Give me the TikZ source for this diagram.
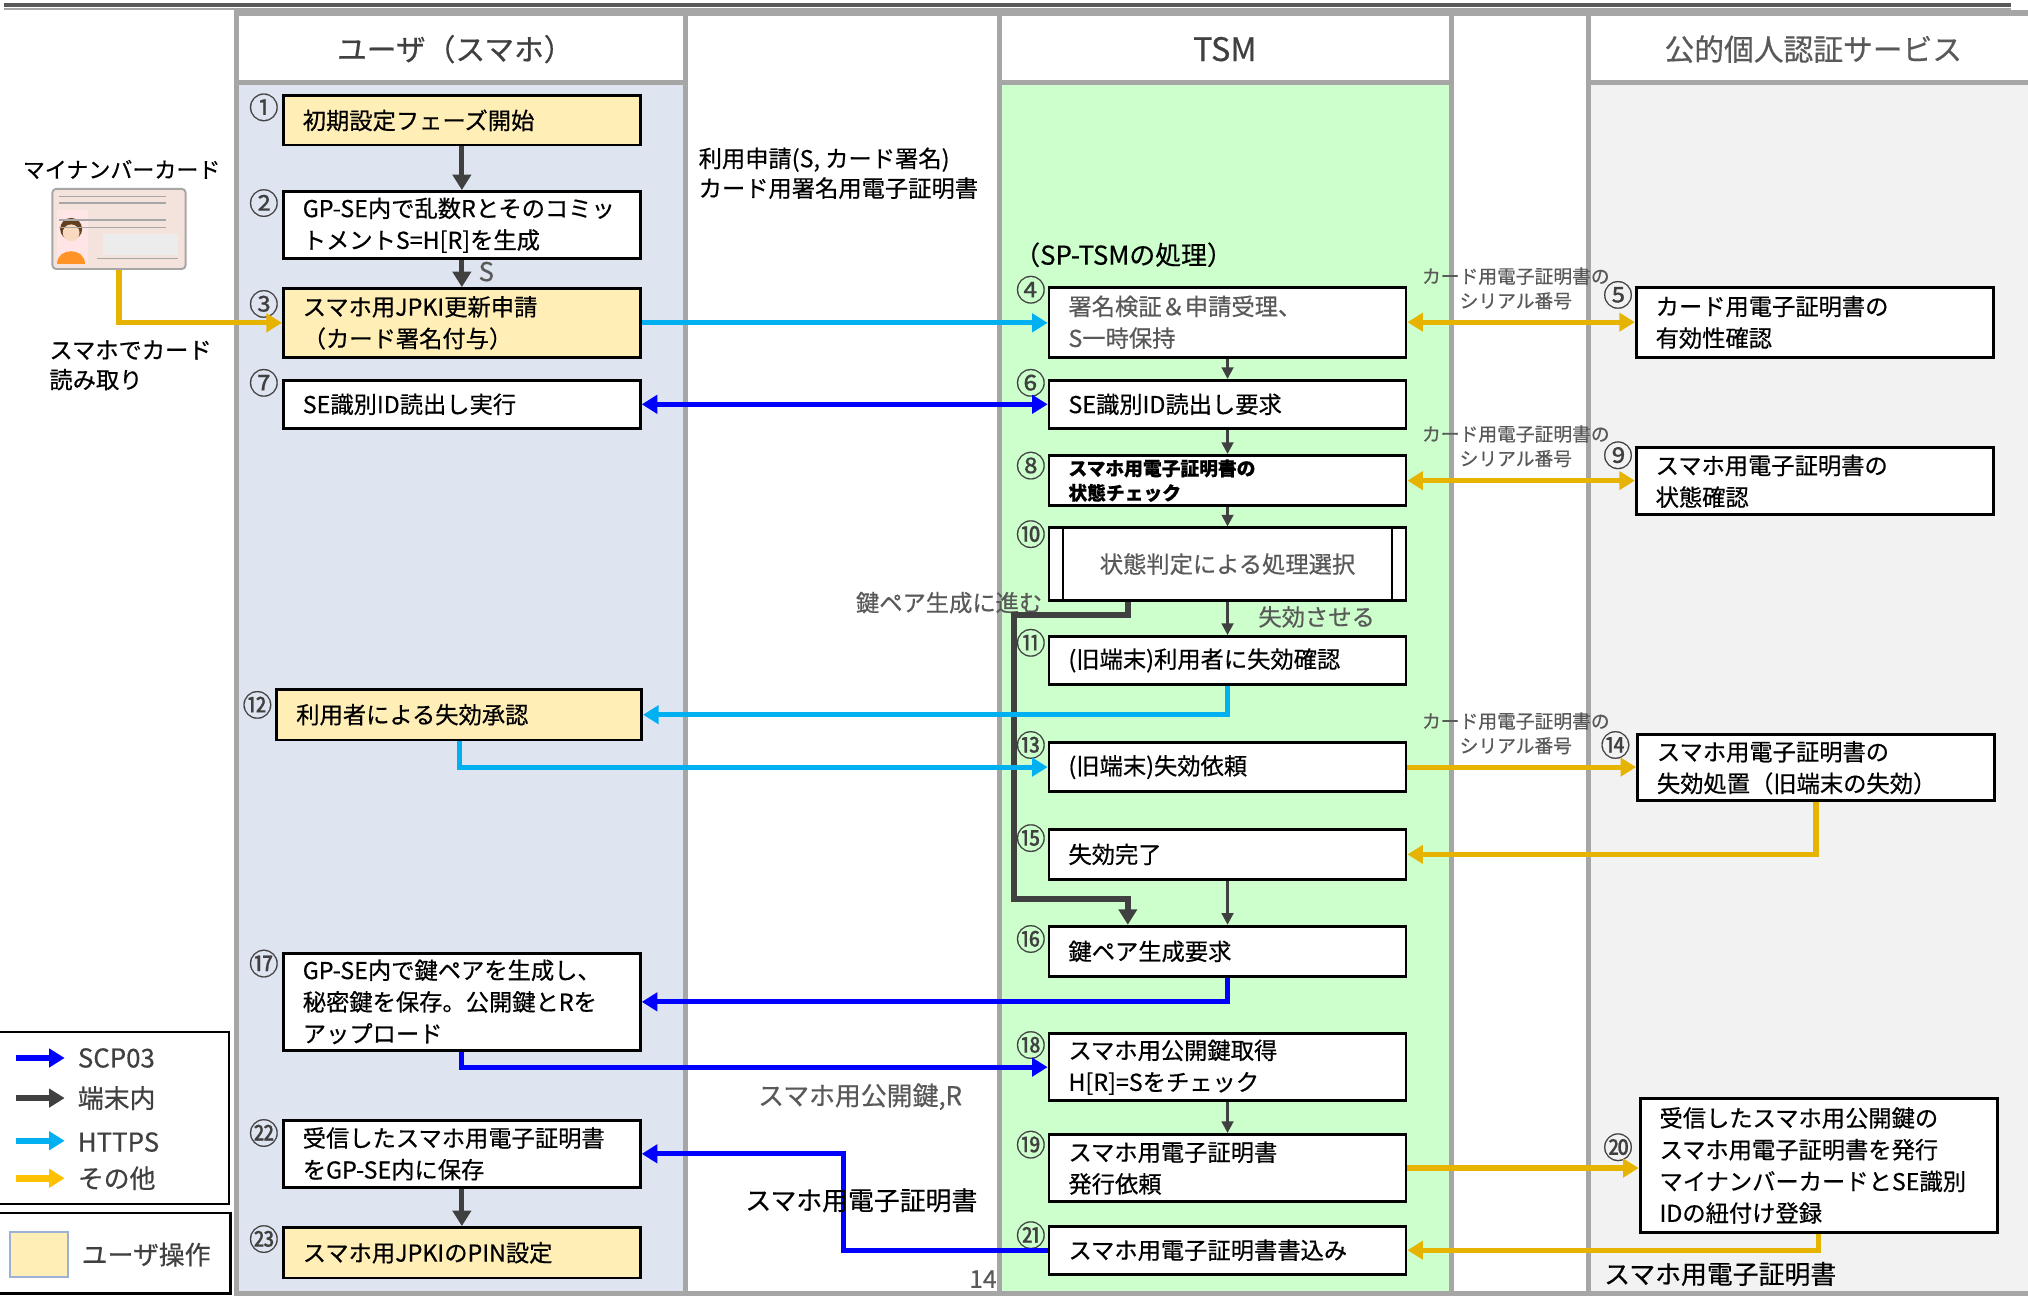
\documentclass[tikz,border=0pt]{standalone}
\usepackage{fontspec}
\setmainfont{Noto Sans CJK JP}[FakeBold=0.5]
\usetikzlibrary{arrows.meta}
\definecolor{lanegray}{HTML}{A6A6A6}
\definecolor{userbg}{HTML}{DEE4F0}
\definecolor{tsmbg}{HTML}{CCFFCC}
\definecolor{jpkibg}{HTML}{F2F2F2}
\definecolor{opyellow}{HTML}{FFEEB5}
\definecolor{cblue}{HTML}{0000FF}
\definecolor{ccyan}{HTML}{00B0F0}
\definecolor{cgold}{HTML}{E6B400}
\definecolor{lgold}{HTML}{FFC000}
\definecolor{cdark}{HTML}{404040}
\definecolor{txtgray}{HTML}{595959}
\definecolor{cardbg}{HTML}{F4E2DC}
\definecolor{skin}{HTML}{F9D9C0}
\begin{document}
\begin{tikzpicture}[x=1pt,y=-1pt,
  lane/.style={draw=lanegray, line width=4},
  bx/.style={draw=black, line width=2.2, fill=white, anchor=north west, inner xsep=15pt, inner ysep=0pt, align=left, text width=246pt, font=\fontsize{18}{24.5}\selectfont},
  ubx/.style={bx, fill=opyellow},
  num/.style={font=\fontsize{23}{23}\selectfont, text=cdark, inner sep=0},
  lbl/.style={font=\fontsize{18}{23}\selectfont, inner sep=0, align=left},
  biglbl/.style={font=\fontsize{20}{24}\selectfont, inner sep=0, align=left},
  serial/.style={font=\fontsize{14.5}{19}\selectfont, text=txtgray, align=center, inner sep=0},
  arr/.style={line width=4, -{Triangle[length=12pt,width=14pt]}},
  darr/.style={line width=4, {Triangle[length=12pt,width=14pt]}-{Triangle[length=12pt,width=14pt]}},
  tarr/.style={draw=cdark, line width=2, -{Triangle[length=9pt,width=9pt]}},
  garr/.style={draw=cdark, line width=4, -{Triangle[length=12pt,width=14pt]}},
  legtxt/.style={font=\fontsize{20}{20}\selectfont, text=cdark, inner sep=0, anchor=west}
]
\useasboundingbox (0,0) rectangle (1568,1002);
\fill[white] (0,0) rectangle (1568,1002);

% top rule
\draw[line width=3, color=txtgray] (3,4) -- (1555,4);
\draw[line width=1.5, color=lanegray] (3,7) -- (1555,7);

% lanes
\draw[lane, fill=white] (183,10) rectangle (530,64);
\draw[lane, fill=userbg] (183,64) rectangle (530,1000);
\draw[lane, fill=white] (530,10) rectangle (773,1000);
\draw[lane, fill=white] (773,10) rectangle (1122,64);
\draw[lane, fill=tsmbg] (773,64) rectangle (1122,1000);
\draw[lane, fill=white] (1122,10) rectangle (1228,1000);
\draw[lane, fill=white] (1228,10) rectangle (1575,64);
\draw[lane, fill=jpkibg] (1228,64) rectangle (1575,1000);

% headers
\node[font=\fontsize{23}{23}\selectfont, text=cdark] (hUser) at (352,38) {ユーザ（スマホ）};
\node[font=\fontsize{25}{25}\selectfont, text=cdark] (hTSM) at (947,38) {TSM};
\node[font=\fontsize{23}{23}\selectfont, text=txtgray] (hJPKI) at (1402,38) {公的個人認証サービス};

% my number card
\node[lbl, anchor=center, font=\fontsize{17}{20}\selectfont] (cardlbl) at (94,131) {マイナンバーカード};
\node[draw=lanegray, line width=1.5, fill=cardbg, rounded corners=3, minimum width=103, minimum height=62, inner sep=0] (card) at (92,177) {};
\fill[red!10] (44,162) rectangle (68,204);
\fill[brown!50!black] (55,177) circle (8.5);
\fill[skin] (55,180) circle (6.5);
\fill[orange!85] (44,204) .. controls (44,191) and (66,191) .. (66,204) -- cycle;
\foreach \yy in {152,157,170,176}{\draw[gray!70, line width=1] (46,\yy) -- (128,\yy);}
\fill[white!85!gray] (80,181) rectangle (138,197);
\draw[gray!70, line width=1] (75,200) -- (138,200);
\node[lbl, anchor=north west] (readlbl) at (38,263) {スマホでカード\\読み取り};

% user lane boxes
\node[ubx, minimum height=38] (b1) at (218,73) {初期設定フェーズ開始};
\node[bx, minimum height=52] (b2) at (218,147) {GP-SE内で乱数Rとそのコミッ\\トメントS=H[R]を生成};
\node[ubx, minimum height=53] (b3) at (218,222) {スマホ用JPKI更新申請\\（カード署名付与）};
\node[bx, minimum height=37] (b7) at (218,293) {SE識別ID読出し実行};
\node[ubx, minimum height=39, text width=252pt] (b12) at (213,532) {利用者による失効承認};
\node[bx, minimum height=75] (b17) at (218,736) {GP-SE内で鍵ペアを生成し、\\秘密鍵を保存。公開鍵とRを\\アップロード};
\node[bx, minimum height=52] (b22) at (218,865) {受信したスマホ用電子証明書\\をGP-SE内に保存};
\node[ubx, minimum height=39] (b23) at (218,948) {スマホ用JPKIのPIN設定};

% TSM lane boxes
\node[biglbl, anchor=west] (sptsm) at (784,197) {（SP-TSMの処理）};
\node[bx, minimum height=54, text=txtgray] (b4) at (810,221) {署名検証＆申請受理、\\S一時保持};
\node[bx, minimum height=37] (b6) at (810,293) {SE識別ID読出し要求};
\node[bx, minimum height=39, font=\fontsize{14.5}{19}\selectfont\bfseries] (b8) at (810,351) {スマホ用電子証明書の\\状態チェック};
\node[bx, minimum height=56, text=txtgray, align=center] (b10) at (810,407) {状態判定による処理選択};
\draw[line width=2] ([xshift=12]b10.north west) -- ([xshift=12]b10.south west);
\draw[line width=2] ([xshift=-12]b10.north east) -- ([xshift=-12]b10.south east);
\node[bx, minimum height=37] (b11) at (810,491) {(旧端末)利用者に失効確認};
\node[bx, minimum height=38] (b13) at (810,573) {(旧端末)失効依頼};
\node[bx, minimum height=39] (b15) at (810,640) {失効完了};
\node[bx, minimum height=39] (b16) at (810,715) {鍵ペア生成要求};
\node[bx, minimum height=52] (b18) at (810,798) {スマホ用公開鍵取得\\H[R]=Sをチェック};
\node[bx, minimum height=52] (b19) at (810,876) {スマホ用電子証明書\\発行依頼};
\node[bx, minimum height=37] (b21) at (810,947) {スマホ用電子証明書書込み};

% JPKI lane boxes
\node[bx, minimum height=54] (b5) at (1264,221) {カード用電子証明書の\\有効性確認};
\node[bx, minimum height=52] (b9) at (1264,345) {スマホ用電子証明書の\\状態確認};
\node[bx, minimum height=51] (b14) at (1265,567) {スマホ用電子証明書の\\失効処置（旧端末の失効）};
\node[bx, minimum height=104] (b20) at (1267,848) {受信したスマホ用公開鍵の\\スマホ用電子証明書を発行\\マイナンバーカードとSE識別\\IDの紐付け登録};

% circled numbers
\node[num] (n1) at (204,83) {①};
\node[num] (n2) at (204,157) {②};
\node[num] (n3) at (204,235) {③};
\node[num] (n7) at (204,296) {⑦};
\node[num] (n12) at (199,545) {⑫};
\node[num] (n17) at (204,745) {⑰};
\node[num] (n22) at (204,876) {㉒};
\node[num] (n23) at (204,958) {㉓};
\node[num] (n4) at (797,224) {④};
\node[num] (n6) at (797,296) {⑥};
\node[num] (n8) at (797,360) {⑧};
\node[num] (n10) at (797,413) {⑩};
\node[num] (n11) at (797,497) {⑪};
\node[num] (n13) at (797,576) {⑬};
\node[num] (n15) at (797,648) {⑮};
\node[num] (n16) at (797,726) {⑯};
\node[num] (n18) at (797,808) {⑱};
\node[num] (n19) at (797,885) {⑲};
\node[num] (n21) at (797,955) {㉑};
\node[num] (n5) at (1251,228) {⑤};
\node[num] (n9) at (1251,352) {⑨};
\node[num] (n14) at (1249,576) {⑭};
\node[num] (n20) at (1251,887) {⑳};

% labels
\node[lbl, anchor=west] (req) at (540,134) {利用申請(S, カード署名)\\カード用署名用電子証明書};
\node[serial] (ser1) at (1172,223) {カード用電子証明書の\\シリアル番号};
\node[serial] (ser2) at (1172,345) {カード用電子証明書の\\シリアル番号};
\node[serial] (ser3) at (1172,567) {カード用電子証明書の\\シリアル番号};
\node[lbl, anchor=east, text=txtgray] (keygo) at (806,466) {鍵ペア生成に進む};
\node[lbl, text=txtgray] (revoke) at (1018,477) {失効させる};
\node[biglbl, text=txtgray] (pubR) at (665,848) {スマホ用公開鍵,R};
\node[lbl, text=txtgray, font=\fontsize{20}{20}\selectfont] (sval) at (376,210) {S};
\node[lbl, text=txtgray, font=\fontsize{19}{19}\selectfont] (pno) at (760,989) {14};

% connectors: in-device (dark gray)
\draw[garr] (b1.south) -- (b2.north);
\draw[garr] (b2.south) -- (b3.north);
\draw[garr] (b22.south) -- (b23.north);
\draw[tarr] (b4.south) -- (b6.north);
\draw[tarr] (b6.south) -- (b8.north);
\draw[tarr] (b8.south) -- (b10.north);
\draw[tarr] (b10.south) -- (b11.north);
\draw[tarr] (b15.south) -- (b16.north);
\draw[tarr] (b18.south) -- (b19.north);
\draw[garr, line width=4.5] (b10.south west) ++(62,0) coordinate (k1) -- ++(0,10) -- ++(-88,0) -- ++(0,220) -- ++(88,0) -- (k1 |- b16.north);

% other (gold)
\draw[arr, cgold] (card.south) |- (b3.west);
\draw[darr, cgold] (b4.east) -- (b5.west);
\draw[darr, cgold] (b8.east) -- (b8.east -| b9.west);
\draw[arr, cgold] (b13.east) -- (b13.east -| b14.west);
\draw[arr, cgold] (b14.south) |- (b15.east);
\draw[arr, cgold] (b19.east) -- (b19.east -| b20.west);
\draw[arr, cgold] (b20.south) |- (b21.east);

% HTTPS (cyan)
\draw[arr, ccyan] (b3.east) -- (b3.east -| b4.west);
\draw[arr, ccyan] (b11.south) |- (b12.east);
\draw[arr, ccyan] (b12.south) |- (b13.west);

% SCP03 (blue)
\draw[darr, cblue] (b7.east) -- (b6.west);
\draw[arr, cblue] (b16.south) |- (b17.east);
\draw[arr, cblue] (b17.south) |- (b18.west);
\draw[arr, cblue] (b21.west) -- ++(-158,0) |- (b22.east);

\node[biglbl, text=black] (certlbl) at (666,928) {スマホ用電子証明書};
\node[biglbl, text=black] (certlbl2) at (1330,985) {スマホ用電子証明書};

% legend
\draw[black, line width=2] (-2,798) rectangle (177,931);
\coordinate (la1) at (12,818); \coordinate (la2) at (50,818);
\draw[arr, cblue, line width=5] (la1) -- (la2);
\node[legtxt] (lt1) at (60,818) {SCP03};
\coordinate (lb1) at (12,849); \coordinate (lb2) at (50,849);
\draw[arr, cdark, line width=5] (lb1) -- (lb2);
\node[legtxt] (lt2) at (60,849) {端末内};
\coordinate (lc1) at (12,882); \coordinate (lc2) at (50,882);
\draw[arr, ccyan, line width=5] (lc1) -- (lc2);
\node[legtxt] (lt3) at (60,883) {HTTPS};
\coordinate (ld1) at (12,911); \coordinate (ld2) at (50,911);
\draw[arr, lgold, line width=5] (ld1) -- (ld2);
\node[legtxt] (lt4) at (60,911) {その他};
\draw[black, line width=2] (-2,938) rectangle (178,1000);
\node[draw={rgb,255:red,157;green,176;blue,216}, line width=1.5, fill=opyellow, minimum width=45, minimum height=35, inner sep=0] (lsq) at (30,970) {};
\node[legtxt] (lt5) at (63,970) {ユーザ操作};
\end{tikzpicture}
\end{document}
